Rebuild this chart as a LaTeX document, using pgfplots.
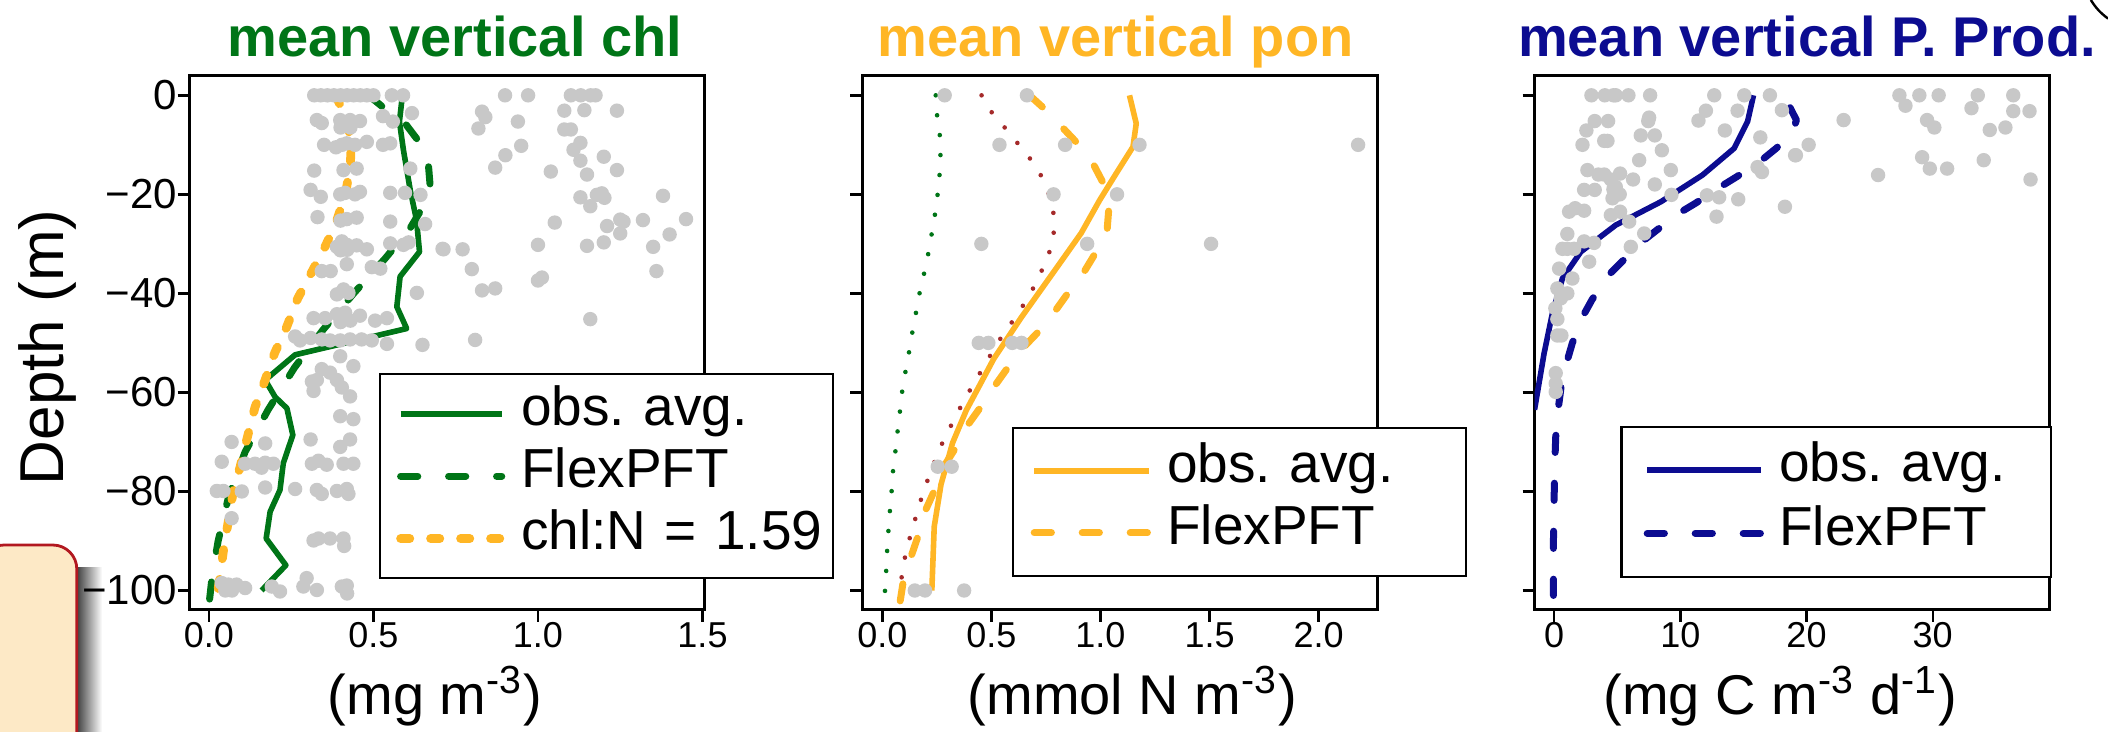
\documentclass[border=0pt]{standalone}
\usepackage{fontspec}
\setmainfont{Liberation Sans}
\usepackage{pgfplots}
\pgfplotsset{compat=1.18}
\definecolor{cgreen}{RGB}{0,117,23}
\definecolor{corange}{RGB}{255,182,37}
\definecolor{cnavy}{RGB}{12,12,145}
\definecolor{cbrown}{RGB}{165,42,42}
\definecolor{cgrey}{RGB}{200,200,200}
\definecolor{peach}{RGB}{253,233,198}
\definecolor{boxred}{RGB}{178,24,32}

\pgfplotsset{
  panel/.style={
    scale only axis, width=128.8pt, height=133.5pt, anchor=south west,
    ymin=-103.84, ymax=4.0,
    ytick={0,-20,-40,-60,-80,-100},
    tick align=outside, tick pos=left,
    major tick length=3pt,
    axis line style={black, line width=0.7pt},
    every tick/.append style={black, line width=0.6pt},
    xticklabel style={font=\fontsize{9}{9}\selectfont, inner sep=0pt},
    yticklabel style={font=\fontsize{10.5}{10.5}\selectfont, inner sep=0pt},
    legend cell align=left,
    legend style={draw=black, line width=0.6pt, fill=white, anchor=north west,
      inner xsep=0pt, inner ysep=2.1pt, row sep=0pt,
      nodes={inner sep=0pt, text height=10.6pt, text depth=5.0pt,
        font=\fontsize{13.75}{13.75}\selectfont, anchor=west}},
  },
  greypts/.style={only marks, mark=*, mark size=1.6pt, color=cgrey,
    mark options={draw=none, fill=cgrey}, forget plot},
  obsline/.style={line width=1.4pt, line join=round},
  dashline/.style={line width=1.75pt, dash pattern=on 4.3pt off 7.7pt, line cap=round, line join=round},
  dotline/.style={line width=2.2pt, dash pattern=on 2.3pt off 5.2pt, line cap=round, line join=round},
  smalldot/.style={line width=1.15pt, dash pattern=on 0pt off 5pt, line cap=round, forget plot},
}

\begin{document}
\begin{tikzpicture}[x=1pt,y=1pt]
% slide decoration at lower left
\shade[left color=black!75, right color=white] (19.2,-2) rectangle (25.5,41);
\fill[peach, draw=boxred, line width=0.7pt, rounded corners=6pt] (-5,-8) rectangle (19.2,46.5);

%================ panel 1: chl
\begin{axis}[panel, at={(47.4pt,30.375pt)},
  xmin=-0.0587, xmax=1.507,
  xtick={0,0.5,1,1.5}, xticklabels={0.0,0.5,1.0,1.5},
  yticklabels={0,−20,−40,−60,−80,−100},
  legend style={at={(0.3676,0.4429)},
    /tikz/every even column/.append style={text width=78pt, align=left}},
  legend image code/.code={\path[draw=none,fill=none] (0pt,0pt) -- (35.25pt,0pt);
    \draw[#1] (5.1pt,0pt) -- (30.4pt,0pt);},
]
\addplot[greypts] coordinates {
(0.32,0)(0.34,0)(0.36,0)(0.38,0)(0.40,0)(0.42,0)(0.44,0)(0.46,0)(0.48,0)(0.50,0)(0.556,0)(0.59,0)
(0.90,0)(0.97,0)(1.10,0)(1.13,0)(1.16,0)(1.175,0)
(0.617,-3.6)(0.529,-4.2)(0.559,-5.3)(0.328,-5.0)(0.343,-5.6)(0.399,-5)(0.414,-5.6)(0.429,-5)(0.459,-5.2)(0.40,-6.5)(0.43,-6.5)
(0.830,-3.3)(0.840,-4.4)(1.080,-3.1)(1.141,-3.0)(1.240,-3.1)(0.939,-5.3)(0.819,-6.7)(1.080,-6.9)(1.100,-6.9)
(1.129,-9.6)(1.108,-11)(0.949,-10.2)(0.901,-12.1)(0.870,-14.6)(1.129,-13.2)(1.2,-12.4)(1.039,-15.4)(1.149,-16)(1.240,-15.1)
(1.129,-20.6)(1.179,-20.1)(1.194,-19.8)(1.202,-20.7)(1.159,-22.4)(1.380,-20.3)
(1.051,-25.7)(1.21,-26.4)(1.25,-25.1)(1.26,-25.5)(1.319,-25.2)(1.45,-25)(1.25,-27.9)(1.40,-28.1)
(1.2,-29.7)(1.149,-30.4)(1.0,-30.2)(1.35,-30.6)(0.713,-31.1)(0.771,-31.1)(0.799,-35.1)(1.36,-35.5)
(1.0,-37.4)(1.012,-36.8)(0.830,-39.4)(0.870,-39.0)(1.159,-45.2)(0.809,-49.4)
(0.350,-10)(0.386,-10.5)(0.404,-10)(0.419,-9.7)(0.444,-10)(0.48,-9.4)(0.529,-10)(0.551,-9.7)
(0.32,-15.2)(0.409,-15.1)(0.449,-14.8)(0.612,-14.8)
(0.309,-19.1)(0.340,-20.5)(0.399,-20)(0.414,-19.7)(0.444,-20)(0.459,-19.5)(0.551,-19.7)(0.596,-19.7)(0.643,-20.1)
(0.330,-24.6)(0.419,-25)(0.449,-24.7)(0.551,-25.5)(0.657,-26)(0.40,-25.3)
(0.404,-29.5)(0.419,-30.2)(0.449,-30.3)(0.48,-31.1)(0.389,-30.6)(0.551,-29.9)(0.591,-30.2)(0.607,-29.7)(0.71,-31)(0.42,-31.2)(0.40,-31.3)
(0.419,-34.1)(0.343,-35.5)(0.370,-35.5)(0.495,-34.7)(0.521,-35)
(0.389,-40.2)(0.409,-39.2)(0.424,-39.9)(0.632,-39.9)
(0.318,-45)(0.353,-45)(0.389,-44.2)(0.414,-43.9)(0.459,-44.5)(0.505,-45.5)(0.541,-45)(0.40,-45.8)(0.43,-45.5)
(0.262,-48.7)(0.309,-49)(0.343,-49.3)
(0.277,-49.5)(0.368,-49.5)(0.399,-49.5)(0.429,-49.3)(0.464,-49.3)(0.495,-49.5)(0.541,-50.2)(0.649,-50.4)
(0.399,-52.7)(0.439,-54.7)(0.343,-55.3)(0.368,-56)
(0.313,-57.8)(0.328,-57.5)(0.318,-59.7)(0.389,-57.5)(0.404,-59)(0.429,-60.8)
(0.399,-64.8)(0.439,-65.4)
(0.069,-70)(0.171,-70.3)(0.309,-69.5)(0.429,-69.5)(0.399,-71)
(0.039,-74)(0.110,-74.4)(0.140,-74.4)(0.171,-74.2)(0.196,-74.4)(0.313,-74.4)(0.333,-73.8)(0.358,-74.6)(0.409,-74.4)(0.439,-74.4)(0.16,-75.2)
(0.024,-79.9)(0.044,-79.9)(0.1,-80)(0.171,-79.2)(0.262,-79.5)(0.328,-79.7)(0.343,-80.5)(0.389,-79.9)(0.419,-79.5)(0.424,-80.5)
(0.069,-85.4)
(0.318,-89.9)(0.333,-89.5)(0.368,-89.5)(0.409,-89.5)(0.411,-91)
(0.297,-97.5)(0.328,-99.9)(0.287,-99.2)(0.404,-99.2)(0.419,-99)(0.42,-100.6)
(0.039,-98.5)(0.059,-98.8)(0.084,-98.8)(0.11,-99.5)(0.191,-99.2)(0.216,-100.2)(0.05,-100)(0.07,-100)
};
\addplot[obsline, cgreen] coordinates {
(0.588,0)(0.579,-5.3)(0.591,-11)(0.612,-19.2)(0.631,-25.2)(0.640,-31.6)(0.581,-36.6)(0.571,-42.7)(0.601,-47.1)
(0.262,-52.4)(0.171,-57.5)(0.201,-60.9)(0.237,-63.2)(0.255,-68.6)(0.226,-74.3)(0.216,-79.7)(0.186,-84.1)(0.174,-89.5)(0.234,-94.9)(0.160,-100)
};
\addlegendentry{obs.\ avg.}
\addplot[dashline, cgreen] coordinates {
(0.485,0)(0.54,-3)(0.60,-6)(0.64,-9.5)(0.667,-14)(0.672,-18)(0.655,-22)(0.61,-27)(0.535,-33)(0.44,-40)(0.345,-47.5)
(0.26,-55)(0.18,-63.5)(0.11,-72)(0.06,-81)(0.028,-90)(0.01,-97)(0.0,-103)
};
\addlegendentry{FlexPFT}
\addplot[dotline, corange] coordinates {
(0.385,0)(0.42,-5)(0.432,-10)(0.43,-14)(0.415,-20)(0.385,-26)(0.35,-31)(0.31,-36)(0.27,-41)(0.235,-47)(0.2,-52)
(0.168,-58)(0.14,-63)(0.117,-69)(0.095,-75)(0.074,-80)(0.059,-86)(0.044,-92)(0.032,-98)(0.02,-103)
};
\addlegendentry{chl:N = 1.59}
\end{axis}

%================ panel 2: pon
\begin{axis}[panel, at={(215.525pt,30.375pt)},
  xmin=-0.0926, xmax=2.269,
  xtick={0,0.5,1,1.5,2}, xticklabels={0.0,0.5,1.0,1.5,2.0},
  yticklabels={},
  legend style={at={(0.291,0.3425)}, inner ysep=3pt,
    nodes={text height=10.7pt, text depth=4.8pt},
    /tikz/every even column/.append style={text width=74.75pt, align=left}},
  legend image code/.code={\path[draw=none,fill=none] (0pt,0pt) -- (38.5pt,0pt);
    \draw[#1] (5.25pt,0pt) -- (33.9pt,0pt);},
]
\addplot[greypts] coordinates {
(0.286,0)(0.663,0)(0.537,-10)(0.838,-10)(1.179,-10)(2.181,-10)(0.785,-20)(1.076,-20)
(0.454,-30)(0.939,-30)(1.507,-30)(0.442,-50)(0.486,-50)(0.596,-50)(0.638,-50)
(0.254,-75)(0.318,-75)(0.149,-100)(0.196,-100)(0.375,-100)
};
\addplot[smalldot, cgreen] coordinates {
(0.245,0)(0.249,-3.4)(0.263,-7.6)(0.267,-11.6)(0.263,-15.8)(0.254,-19.8)(0.242,-23.9)(0.227,-27.8)(0.211,-31.9)
(0.192,-35.9)(0.171,-39.9)(0.154,-44)(0.137,-48)(0.122,-52)(0.105,-56.1)(0.090,-60.1)(0.080,-64.2)(0.069,-68.2)
(0.059,-72.3)(0.048,-76.3)(0.042,-80.4)(0.034,-84.4)(0.027,-88.6)(0.021,-92.8)(0.017,-96.8)(0.011,-101)
};
\addplot[smalldot, cbrown] coordinates {
(0.455,0)(0.475,-2.1)(0.537,-5.2)(0.596,-8.4)(0.655,-11.5)(0.712,-14.8)(0.753,-18.6)(0.781,-22.3)(0.790,-26.4)
(0.777,-30.4)(0.743,-34.2)(0.705,-37.9)(0.659,-41.5)(0.606,-45.1)(0.553,-48.3)(0.505,-51.8)(0.457,-55.4)
(0.410,-58.9)(0.364,-62.5)(0.322,-66.1)(0.280,-69.7)(0.244,-73.5)(0.211,-77.3)(0.181,-81.1)(0.154,-85.1)
(0.128,-89)(0.105,-93)(0.090,-97)(0.073,-101)
};
\addplot[obsline, corange] coordinates {
(1.133,0)(1.164,-5.7)(1.149,-10.4)(1.069,-16)(0.996,-21.2)(0.912,-27.8)(0.806,-34.4)(0.638,-44.8)(0.511,-53.2)
(0.385,-63.6)(0.322,-70.2)(0.269,-78.6)(0.238,-87.1)(0.227,-100)
};
\addlegendentry{obs.\ avg.}
\addplot[dashline, corange] coordinates {
(0.675,0)(0.75,-3)(0.83,-6.7)(0.89,-9.5)(0.965,-13.7)(1.01,-17.5)(1.038,-23)(1.03,-27.5)(0.975,-32)(0.92,-36)
(0.85,-40)(0.785,-44)(0.71,-48)(0.645,-51)(0.575,-55)(0.51,-59)(0.45,-63)(0.385,-67)(0.33,-71.6)(0.276,-75.4)
(0.237,-80)(0.196,-84)(0.164,-89)(0.133,-93)(0.1,-97)(0.08,-102.7)
};
\addlegendentry{FlexPFT}
\end{axis}

%================ panel 3: primary production
\begin{axis}[panel, at={(383.625pt,30.375pt)},
  xmin=-1.55, xmax=39.27,
  xtick={0,10,20,30}, xticklabels={0,10,20,30},
  yticklabels={},
  legend style={at={(0.1667,0.3444)}, inner ysep=3pt,
    nodes={text height=10.8pt, text depth=4.95pt},
    /tikz/every even column/.append style={text width=68pt, align=left}},
  legend image code/.code={\path[draw=none,fill=none] (0pt,0pt) -- (39.4pt,0pt);
    \draw[#1] (6.4pt,0pt) -- (34.9pt,0pt);},
]
\addplot[greypts] coordinates {
(2.96,0)(4.02,0)(4.70,0)(4.89,0)(5.89,0)(7.61,0)(12.69,0)(15.07,0)(17.1,0)(27.36,0)(28.94,0)(30.47,0)(33.57,0)(36.38,0)
(27.84,-2.1)(33.07,-2.6)(36.38,-3.2)(37.67,-3.2)(22.94,-5)(29.55,-5)(30.13,-6.5)(34.52,-7)(35.76,-6.5)
(20.17,-10)(19.16,-12.1)(29.16,-12.5)(29.77,-14.8)(31.14,-14.8)(34.04,-13.1)(25.67,-16.1)(37.75,-17)(18.29,-22.5)(18.05,-3)
(12.03,-3.1)(14.54,-3.1)(3.22,-5.2)(4.28,-5.2)(7.53,-4.5)(7.46,-5.2)(11.44,-5.1)(2.56,-7.1)(3.97,-9.2)(4.23,-9.2)
(6.87,-8.1)(7.98,-8.1)(13.53,-7.1)(2.25,-10)(8.54,-11.1)(16.34,-8.5)(19.1,-12.1)(6.74,-13.1)(2.64,-15.1)(9.25,-15.1)
(16.12,-14.5)(16.47,-15.5)(3.51,-16)(3.97,-16)(4.5,-17)(4.89,-18.5)(5.23,-15.8)(6.26,-17)(7.98,-18)(4.7,-19)(5.2,-20)
(2.38,-19.1)(3.22,-19.1)(4.63,-20.8)(9.3,-20.1)(12.11,-20.2)(13.08,-20.6)(14.59,-21)(1.67,-22.8)(1.19,-23.5)(2.38,-23.3)
(4.5,-24.2)(5.23,-23.5)(5.95,-25.5)(12.87,-24.5)(1.05,-28)(2.38,-29.5)(3.17,-29.8)(6.08,-30.6)(7.14,-27.9)
(0.66,-31)(1.05,-31)(1.59,-31)(2.78,-33.6)(0.40,-35)(1.45,-37)(0.26,-39)(0.53,-41)(1.05,-40)(0.1,-43)
(0.26,-45.2)(0.26,-48.5)(0.58,-48.5)(0.13,-56.1)(0.13,-58.2)(0.13,-59.9)
};
\addplot[obsline, cnavy] coordinates {
(15.8,0)(15.33,-5.3)(14.27,-10.7)(11.76,-16.1)(8.46,-21.5)(4.89,-26.2)(2.12,-31.6)(0.66,-37)(-0.13,-44)(-0.79,-52.1)(-1.55,-63.5)
};
\addlegendentry{obs.\ avg.}
\addplot[dashline, cnavy] coordinates {
(18.7,-2.5)(19.2,-5)(18.9,-7.5)(17.6,-10.7)(16.3,-13.4)(14.5,-16.4)(13.1,-18.6)(11.2,-21.8)(9.9,-23.8)(8.1,-27.3)
(6.8,-29.9)(5.3,-33.8)(4.2,-36.6)(3.0,-41.3)(2.2,-45)(1.45,-50)(1.05,-53.5)(0.6,-58)(0.32,-63.5)(0.13,-69)
(0.05,-75)(0.0,-82)(-0.05,-90)(-0.05,-101)
};
\addlegendentry{FlexPFT}
\end{axis}

% titles
\node[anchor=base, font=\fontsize{14}{14}\selectfont\bfseries, text=cgreen] at (113.75,168.75) {mean vertical chl};
\node[anchor=base, font=\fontsize{14}{14}\selectfont\bfseries, text=corange] at (278.9,168.75) {mean vertical pon};
\node[anchor=base, font=\fontsize{14}{14}\selectfont\bfseries, text=cnavy] at (451.75,168.75) {mean vertical P. Prod.};
% axis labels
\node[anchor=base, font=\fontsize{14}{14}\selectfont] at (108.75,4.25) {(mg m\textsuperscript{-3})};
\node[anchor=base, font=\fontsize{14}{14}\selectfont] at (283.1,4.25) {(mmol N m\textsuperscript{-3})};
\node[anchor=base, font=\fontsize{14}{14}\selectfont] at (445.1,4.25) {(mg C m\textsuperscript{-3} d\textsuperscript{-1})};
\node[anchor=base, rotate=90, font=\fontsize{15.5}{15.5}\selectfont] at (16,95.9) {Depth (m)};
% corner stroke at top right
\draw[line width=0.6pt] (522.7,182.75) to[bend right=10] (527,178.1);

\pgfresetboundingbox
\useasboundingbox (0,0) rectangle (527,182.75);
\end{tikzpicture}
\end{document}
